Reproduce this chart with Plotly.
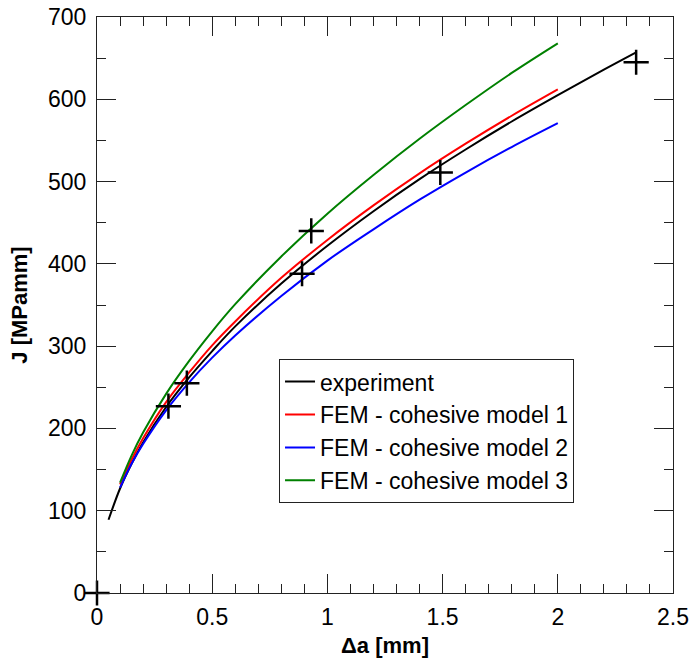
import plotly.graph_objects as go

# experiment curve
exp_x = [0.05, 0.1, 0.15, 0.2, 0.3, 0.4, 0.5, 0.6, 0.8, 1.0, 1.2, 1.4, 1.6, 1.8, 2.0, 2.2, 2.34]
exp_y = [89, 127, 157, 183, 226, 262, 294, 324, 376, 422, 464, 503, 539, 573, 605, 636, 657]

# FEM curves share x samples
fem_x = [0.1, 0.15, 0.2, 0.3, 0.4, 0.5, 0.6, 0.8, 1.0, 1.2, 1.4, 1.6, 1.8, 2.0]
fem1_y = [132, 162, 188, 232, 268, 301, 330, 383, 429, 471, 510, 546, 580, 612]
fem2_y = [128, 157, 181, 222, 256, 286, 313, 361, 404, 442, 478, 511, 542, 571]
fem3_y = [134, 167, 195, 242, 282, 318, 351, 409, 461, 508, 552, 593, 632, 668]

# measured points (crosses)
pts_x = [0.0, 0.31, 0.39, 0.89, 0.93, 1.49, 2.34]
pts_y = [0, 227, 255, 388, 440, 511, 645]

FONT = "Arial, Liberation Sans, sans-serif"

fig = go.Figure()
fig.add_trace(go.Scatter(x=exp_x, y=exp_y, mode="lines", name="experiment",
                         line=dict(color="black", width=2, shape="spline"), legendgroup="a"))
fig.add_trace(go.Scatter(x=fem_x, y=fem1_y, mode="lines", name="FEM - cohesive model 1",
                         line=dict(color="#ff0000", width=2, shape="spline"), legendgroup="b"))
fig.add_trace(go.Scatter(x=fem_x, y=fem2_y, mode="lines", name="FEM - cohesive model 2",
                         line=dict(color="#0000ff", width=2, shape="spline"), legendgroup="c"))
fig.add_trace(go.Scatter(x=fem_x, y=fem3_y, mode="lines", name="FEM - cohesive model 3",
                         line=dict(color="#008000", width=2, shape="spline"), legendgroup="d"))
fig.add_trace(go.Scatter(x=pts_x, y=pts_y, mode="markers", showlegend=False, cliponaxis=False,
                         marker=dict(symbol="cross-thin", size=18,
                                     line=dict(color="black", width=2.5))))

axis_common = dict(showline=True, linecolor="#222", linewidth=1, mirror="ticks",
                   ticks="inside", ticklen=19, tickcolor="#222", tickwidth=1,
                   showgrid=False, zeroline=False, automargin=False,
                   ticklabeloverflow="allow",
                   tickfont=dict(family=FONT, size=23, color="black"))

fig.update_xaxes(range=[0, 2.5], dtick=0.5, tick0=0, ticklabelstandoff=3,
                 minor=dict(dtick=0.1, ticklen=9, ticks="inside", tickcolor="#222", showgrid=False),
                 title=dict(text="<b>Δa [mm]</b>", font=dict(family=FONT, size=22, color="black"), standoff=9),
                 **axis_common)
fig.update_yaxes(range=[0, 700], dtick=100, tick0=0, ticklabelstandoff=5,
                 minor=dict(dtick=50, ticklen=9, ticks="inside", tickcolor="#222", showgrid=False),
                 title=dict(text="<b>J [MPamm]</b>", font=dict(family=FONT, size=22, color="black"), standoff=14),
                 **axis_common)

fig.update_layout(
    width=690, height=660,
    margin=dict(l=97, r=17, t=17, b=67),
    plot_bgcolor="white", paper_bgcolor="white",
    font=dict(family=FONT, color="black"),
    legend=dict(x=0.316, y=0.406, xanchor="left", yanchor="top",
                bgcolor="white", bordercolor="#222", borderwidth=1,
                font=dict(family=FONT, size=23, color="black"),
                tracegroupgap=1, traceorder="normal"),
)

fig.write_html("out.html", config={"displayModeBar": False},
               post_script="document.body.style.margin='0';")
